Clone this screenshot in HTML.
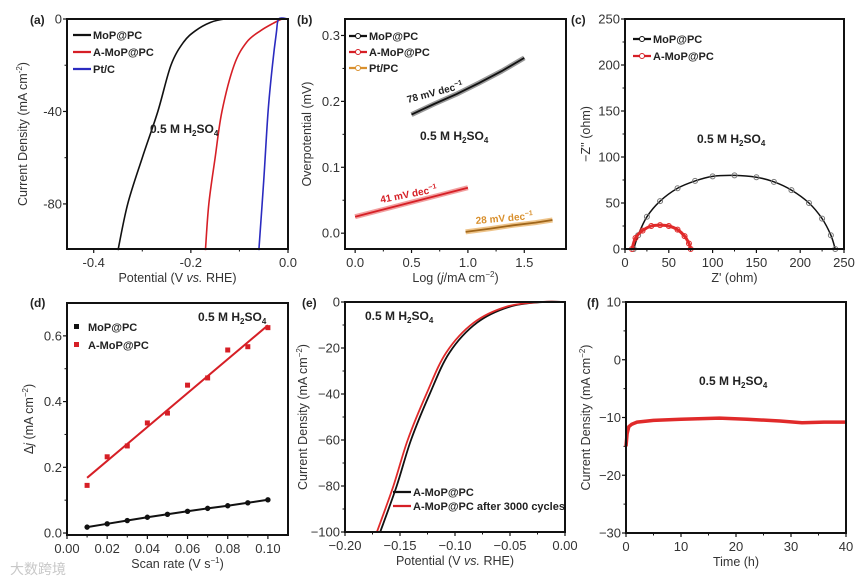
<!DOCTYPE html>
<html><head><meta charset="utf-8">
<style>
html,body{margin:0;padding:0;background:#fff;}
svg{display:block;font-family:"Liberation Sans","Noto Sans CJK SC",sans-serif;}
.tk{font-size:13px;fill:#333;}
.ttl{font-size:12.5px;fill:#333;}
.lg{font-size:11px;font-weight:bold;fill:#222;}
.pl{font-size:12px;font-weight:bold;fill:#222;}
</style></head>
<body>
<svg id="fig" width="866" height="583" viewBox="0 0 866 583"></svg>
<script>
// ---- data ----
const aMoPx=[-0.35,-0.33,-0.30,-0.268,-0.241,-0.215,-0.19,-0.16,-0.13,-0.1,0];
const aMoPy=[-100,-80,-60,-40,-20,-10,-5,-1.5,0,0,0];
const aAMoPx=[-0.17,-0.163,-0.15,-0.136,-0.111,-0.085,-0.056,-0.03,-0.012,0];
const aAMoPy=[-100,-80,-60,-40,-20,-10,-5,-1.8,0,0];
const aPtx=[-0.06,-0.05,-0.041,-0.032,-0.024,-0.019,0];
const aPty=[-100,-70,-40,-20,-6,0,0];
const bMoPx=[0.5,0.7,0.9,1.1,1.3,1.5];
const bMoPy=[0.18,0.196,0.211,0.228,0.246,0.266];
const bAMoPx=[0,0.25,0.5,0.75,1.0];
const bAMoPy=[0.025,0.036,0.047,0.058,0.069];
const bPtx=[0.98,1.2,1.4,1.6,1.75];
const bPty=[0.002,0.007,0.012,0.016,0.02];
const cMoPx=[10,15,25,40,60,80,100,125,150,170,190,210,225,235,240];
const cMoPy=[0,15,35,52,66,74,79,80,78,73,64,50,33,15,0];
const cAMoPx=[8,12,20,30,40,50,60,68,73,75];
const cAMoPy=[0,12,20,25,26,25,21,14,6,0];
const dRate=[0.01,0.02,0.03,0.04,0.05,0.06,0.07,0.08,0.09,0.10];
const dMoP=[0.018,0.028,0.038,0.048,0.057,0.066,0.075,0.083,0.092,0.101];
const dAMoP=[0.145,0.232,0.265,0.335,0.365,0.45,0.472,0.557,0.567,0.625];
const dFitY=[0.168,0.632];
const eBx=[-0.168,-0.153,-0.14,-0.123,-0.105,-0.08,-0.05,-0.02,0];
const eBy=[-100,-80,-60,-40,-22,-9,-2,0,0];
const eRx=[-0.171,-0.156,-0.143,-0.126,-0.108,-0.083,-0.053,-0.022,0];
const eRy=[-100,-80,-60,-40,-22,-9,-2,0,0];
const fT=[0,0.2,0.5,1,2,5,10,17,22,28,32,36,40];
const fJ=[-15,-12.8,-11.6,-11.2,-10.8,-10.5,-10.3,-10.1,-10.3,-10.6,-10.9,-10.8,-10.8];

const NS='http://www.w3.org/2000/svg';
const svg=document.getElementById('fig');
function mk(tag,attrs,parent){const e=document.createElementNS(NS,tag);for(const k in attrs)e.setAttribute(k,attrs[k]);(parent||svg).appendChild(e);return e;}

function panel(p){
  const g=mk('g',{});
  
  
  p.sx=v=>p.l+(v-p.x0)/(p.x1-p.x0)*(p.r-p.l);
  p.sy=v=>p.b-(v-p.y0)/(p.y1-p.y0)*(p.b-p.t);
  p.g=g;
  // ticks
  p.xt.forEach((v,i)=>{const x=p.sx(v);
    const t=mk('line',{x1:x,x2:x,y1:p.b,y2:p.b+4,stroke:'#111','stroke-width':1.2},g);
    
    
    const tx=mk('text',{x:x,y:p.b+18,'text-anchor':'middle',class:'tk'},g);tx.textContent=p.xl[i];
    
    
    if(i<p.xt.length-1){const mx=(x+p.sx(p.xt[i+1]))/2;mk('line',{x1:mx,x2:mx,y1:p.b,y2:p.b+2.5,stroke:'#111'},g);}
  });
  p.yt.forEach((v,i)=>{const y=p.sy(v);
    const t=mk('line',{x1:p.l-4,x2:p.l,y1:y,y2:y,stroke:'#111','stroke-width':1.2},g);
    
    
    const tx=mk('text',{x:p.l-5,y:y+4.5,'text-anchor':'end',class:'tk'},g);tx.textContent=p.yl[i];
    
    
    if(i<p.yt.length-1){const my=(y+p.sy(p.yt[i+1]))/2;mk('line',{x1:p.l-2.5,x2:p.l,y1:my,y2:my,stroke:'#111'},g);}
  });
  const xt=mk('text',{x:(p.l+p.r)/2,y:p.b+33,'text-anchor':'middle',class:'ttl'},g);xt.innerHTML=p.xtitle;
  
  
  const yt=mk('text',{x:0,y:0,'text-anchor':'middle',class:'ttl',transform:`translate(${p.ytx},${(p.t+p.b)/2}) rotate(-90)`},g);yt.innerHTML=p.ytitle;
  
  
  const lt=mk('text',{x:p.lx,y:p.ly,class:'pl'},g);lt.textContent=p.letter;
  
  
  return p;
}
function frame(p){const f=mk('rect',{x:p.l,y:p.t,width:p.r-p.l,height:p.b-p.t,fill:'none',stroke:'#111','stroke-width':2},p.g);
  
  }
function line(p,xs,ys,color,w,name){
  const d=xs.map((x,i)=>(i?'L':'M')+p.sx(x).toFixed(1)+','+p.sy(ys[i]).toFixed(1)).join('');
  const e=mk('path',{d:d,fill:'none',stroke:color,'stroke-width':w,'stroke-linejoin':'round'},p.g);
  
  
  return e;
}
function smooth(p,xs,ys,color,w,name){
  const P=xs.map((x,i)=>[p.sx(x),p.sy(ys[i])]);
  let d='M'+P[0][0]+','+P[0][1];
  for(let i=0;i<P.length-1;i++){const p0=P[i-1]||P[i],p1=P[i],p2=P[i+1],p3=P[i+2]||P[i+1];
    d+=`C${p1[0]+(p2[0]-p0[0])/6},${p1[1]+(p2[1]-p0[1])/6} ${p2[0]-(p3[0]-p1[0])/6},${p2[1]-(p3[1]-p1[1])/6} ${p2[0]},${p2[1]}`;}
  const e=mk('path',{d:d,fill:'none',stroke:color,'stroke-width':w},p.g);
  
  
}
function marks(p,xs,ys,color,shape,name,r){
  xs.forEach((x,i)=>{let e;
    if(shape==='sq')e=mk('rect',{x:p.sx(x)-r,y:p.sy(ys[i])-r,width:2*r,height:2*r,fill:color},p.g);
    else e=mk('circle',{cx:p.sx(x),cy:p.sy(ys[i]),r:r,fill:shape==='open'?'none':color,stroke:color,'stroke-width':1},p.g);
    
    
  });
}
function txt(p,x,y,html,cls,name,extra){const e=mk('text',Object.assign({x:x,y:y,class:cls},extra||{}),p.g);e.innerHTML=html;
  
  return e;}
function legend(p,x,y,color,label,style){
  const g=mk('g',{},p.g);
  
  
  if(style==='sq')mk('rect',{x:x+6,y:y-3,width:5,height:5,fill:color},g);
  else{mk('line',{x1:x,x2:x+18,y1:y,y2:y,stroke:color,'stroke-width':2.2},g);
    if(style==='open')mk('circle',{cx:x+9,cy:y,r:2.5,fill:'#fff',stroke:color},g);}
  const t=mk('text',{x:x+20,y:y+4,class:'lg'},g);t.textContent=label;
}
const H2SO4='0.5 M H<tspan dy="3" font-size="8">2</tspan><tspan dy="-3">SO</tspan><tspan dy="3" font-size="8">4</tspan>';

// (a)
const A=panel({name:'panel-a-polarization',l:67,r:288,t:19,b:249,x0:-0.455,x1:0,y0:-99.5,y1:0,
  xt:[-0.4,-0.2,0],xl:['-0.4','-0.2','0.0'],yt:[-80,-40,0],yl:['-80','-40','0'],
  xtitle:'Potential (V <tspan font-style="italic">vs.</tspan> RHE)',ytitle:'Current Density (mA cm<tspan dy="-5" font-size="8">-2</tspan><tspan dy="5">)</tspan>',ytx:27,letter:'(a)',lx:30,ly:24});
smooth(A,aMoPx,aMoPy,'#111',1.6,'series-mop');
smooth(A,aAMoPx,aAMoPy,'#d61f26',1.6,'series-a-mop');
smooth(A,aPtx,aPty,'#2b2bc0',1.6,'series-ptc');
legend(A,73,35,'#111','MoP@PC');legend(A,73,52,'#d61f26','A-MoP@PC');legend(A,73,69,'#2b2bc0','Pt/C');
txt(A,150,133,H2SO4,'pl','electrolyte-label');
frame(A);

// (b)
const B=panel({name:'panel-b-tafel',l:345,r:566,t:19,b:249,x0:-0.09,x1:1.87,y0:-0.024,y1:0.325,
  xt:[0,0.5,1.0,1.5],xl:['0.0','0.5','1.0','1.5'],yt:[0,0.1,0.2,0.3],yl:['0.0','0.1','0.2','0.3'],
  xtitle:'Log (<tspan font-style="italic">j</tspan>/mA cm<tspan dy="-5" font-size="8">−2</tspan><tspan dy="5">)</tspan>',ytitle:'Overpotential (mV)',ytx:311,letter:'(b)',lx:297,ly:24});
line(B,bMoPx,bMoPy,'#999',5,'series-mop-band');line(B,bMoPx,bMoPy,'#111',1.8,'series-mop');
line(B,bAMoPx,bAMoPy,'#f2a0a0',5,'series-a-mop-band');line(B,bAMoPx,bAMoPy,'#d61f26',1.8,'series-a-mop');
line(B,bPtx,bPty,'#eec48a',5,'series-pt-band');line(B,bPtx,bPty,'#a0661a',1.8,'series-ptpc');
legend(B,349,36,'#111','MoP@PC','open');legend(B,349,52,'#d61f26','A-MoP@PC','open');legend(B,349,68,'#d9902e','Pt/PC','open');
txt(B,0,0,'78 mV dec<tspan dy="-4" font-size="7">−1</tspan>','lg','slope-mop',{transform:'translate(408,103) rotate(-15)',style:'font-size:10px'});
txt(B,0,0,'41 mV dec<tspan dy="-4" font-size="7">−1</tspan>','lg','slope-a-mop',{transform:'translate(381,203) rotate(-11)',style:'font-size:10px;fill:#d61f26'});
txt(B,0,0,'28 mV dec<tspan dy="-4" font-size="7">−1</tspan>','lg','slope-ptpc',{transform:'translate(476,224) rotate(-5)',style:'font-size:10px;fill:#d9902e'});
txt(B,420,140,H2SO4,'pl','electrolyte-label');
frame(B);

// (c)
const C=panel({name:'panel-c-nyquist',l:625,r:844,t:19,b:249,x0:0,x1:250,y0:0,y1:250,
  xt:[0,50,100,150,200,250],xl:['0','50','100','150','200','250'],yt:[0,50,100,150,200,250],yl:['0','50','100','150','200','250'],
  xtitle:"Z' (ohm)",ytitle:"−Z'' (ohm)",ytx:590,letter:'(c)',lx:571,ly:24});
smooth(C,cMoPx,cMoPy,'#111',1.5,'series-mop');marks(C,cMoPx,cMoPy,'#777','open','point-mop',2.5);
smooth(C,cAMoPx,cAMoPy,'#e02a2a',3,'series-a-mop');marks(C,cAMoPx,cAMoPy,'#e02a2a','open','point-a-mop',2.5);
legend(C,633,39,'#111','MoP@PC','open');legend(C,633,56,'#d61f26','A-MoP@PC','open');
txt(C,697,143,H2SO4,'pl','electrolyte-label');
frame(C);

// (d)
const D=panel({name:'panel-d-cdl',l:67,r:288,t:303,b:535,x0:0,x1:0.11,y0:-0.006,y1:0.70,
  xt:[0,0.02,0.04,0.06,0.08,0.10],xl:['0.00','0.02','0.04','0.06','0.08','0.10'],yt:[0,0.2,0.4,0.6],yl:['0.0','0.2','0.4','0.6'],
  xtitle:'Scan rate (V s<tspan dy="-5" font-size="8">−1</tspan><tspan dy="5">)</tspan>',ytitle:'Δ<tspan font-style="italic">j</tspan> (mA cm<tspan dy="-5" font-size="8">−2</tspan><tspan dy="5">)</tspan>',ytx:33,letter:'(d)',lx:30,ly:307});
line(D,dRate,dMoP,'#111',2,'fit-mop');marks(D,dRate,dMoP,'#111','fill','point-mop',2.2);
line(D,[dRate[0],dRate[9]],dFitY,'#d61f26',2,'fit-a-mop');marks(D,dRate,dAMoP,'#d61f26','sq','point-a-mop',2.5);
legend(D,68,327,'#111','MoP@PC','sq');legend(D,68,345,'#d61f26','A-MoP@PC','sq');
txt(D,198,321,H2SO4,'pl','electrolyte-label');
frame(D);

// (e)
const E=panel({name:'panel-e-stability-lsv',l:345,r:565,t:302,b:532,x0:-0.2,x1:0,y0:-100,y1:0,
  xt:[-0.2,-0.15,-0.1,-0.05,0],xl:['−0.20','−0.15','−0.10','−0.05','0.00'],yt:[-100,-80,-60,-40,-20,0],yl:['−100','−80','−60','−40','−20','0'],
  xtitle:'Potential (V <tspan font-style="italic">vs.</tspan> RHE)',ytitle:'Current Density (mA cm<tspan dy="-5" font-size="8">−2</tspan><tspan dy="5">)</tspan>',ytx:307,letter:'(e)',lx:302,ly:307});
smooth(E,eBx,eBy,'#111',1.8,'series-initial');smooth(E,eRx,eRy,'#e02a2a',1.8,'series-after-3000');
legend(E,393,492,'#111','A-MoP@PC');legend(E,393,506,'#d61f26','A-MoP@PC after 3000 cycles');
txt(E,365,320,H2SO4,'pl','electrolyte-label');
frame(E);

// (f)
const F=panel({name:'panel-f-chrono',l:626,r:846,t:302,b:533,x0:0,x1:40,y0:-30,y1:10,
  xt:[0,10,20,30,40],xl:['0','10','20','30','40'],yt:[-30,-20,-10,0,10],yl:['−30','−20','−10','0','10'],
  xtitle:'Time (h)',ytitle:'Current Density (mA cm<tspan dy="-5" font-size="8">−2</tspan><tspan dy="5">)</tspan>',ytx:590,letter:'(f)',lx:587,ly:307});
line(F,fT,fJ,'#e02a2a',3.5,'series-current');
txt(F,699,385,H2SO4,'pl','electrolyte-label');
frame(F);

// watermark
const wm=mk('text',{x:10,y:574,fill:'#c8c8c8','font-size':'14'});wm.textContent='大数跨境';


</script>
</body></html>
